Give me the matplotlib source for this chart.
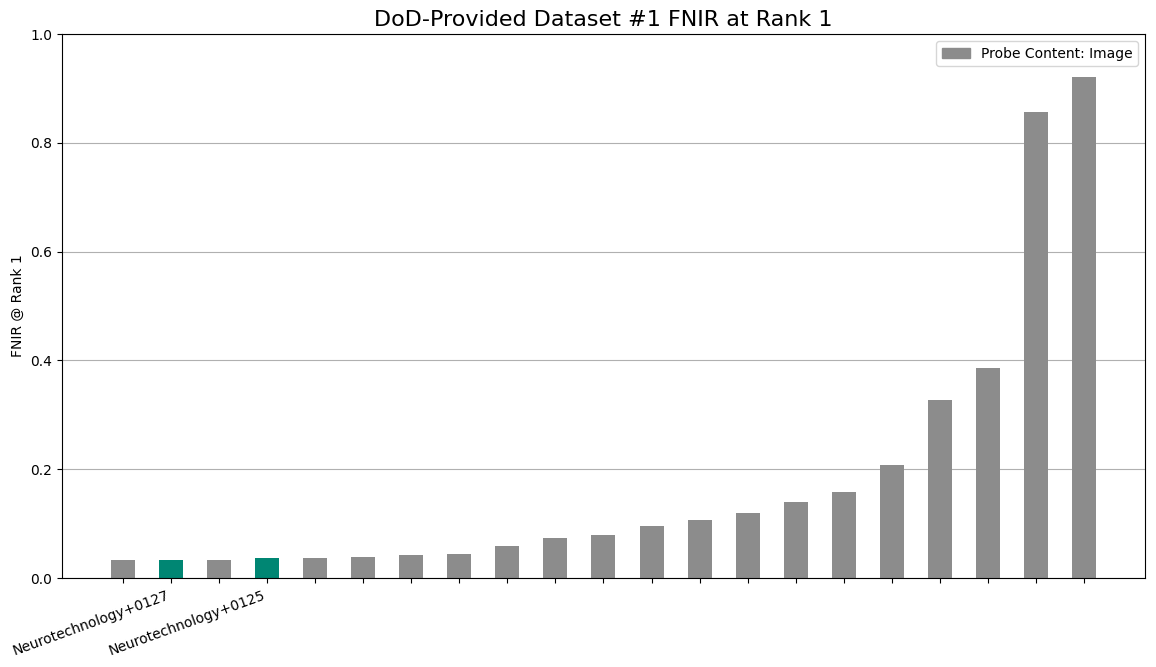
import matplotlib
matplotlib.use("Agg")
import matplotlib.pyplot as plt

labels = ["", "Neurotechnology+0127", "", "Neurotechnology+0125"] + [""] * 17
values = [0.033, 0.033, 0.033, 0.037, 0.037, 0.039, 0.042, 0.044, 0.059, 0.073,
          0.079, 0.096, 0.107, 0.119, 0.140, 0.158, 0.208, 0.327, 0.386, 0.857, 0.921]
highlight = [1, 3]

gray = "#8c8c8c"
teal = "#008673"
colors = [teal if i in highlight else gray for i in range(len(values))]

fig = plt.figure(figsize=(11.56, 6.67), dpi=100)
ax = fig.add_axes([0.0536, 0.1334, 0.9369, 0.8156])
x = list(range(len(values)))
bars = ax.bar(x, values, width=0.5, color=colors, label="Probe Content: Image", zorder=2)
ax.set_ylim(0, 1.0)
ax.set_xticks(x)
ax.set_xticklabels(labels, rotation=20, ha="right")
ax.set_ylabel("FNIR @ Rank 1")
ax.set_title("DoD-Provided Dataset #1 FNIR at Rank 1", fontsize=16)
ax.yaxis.grid(True, color="#b0b0b0", zorder=0)
ax.set_axisbelow(True)
leg = ax.legend(loc="upper right")
leg.legend_handles[0].set_color(gray)
fig.savefig("out.png", dpi=100)
